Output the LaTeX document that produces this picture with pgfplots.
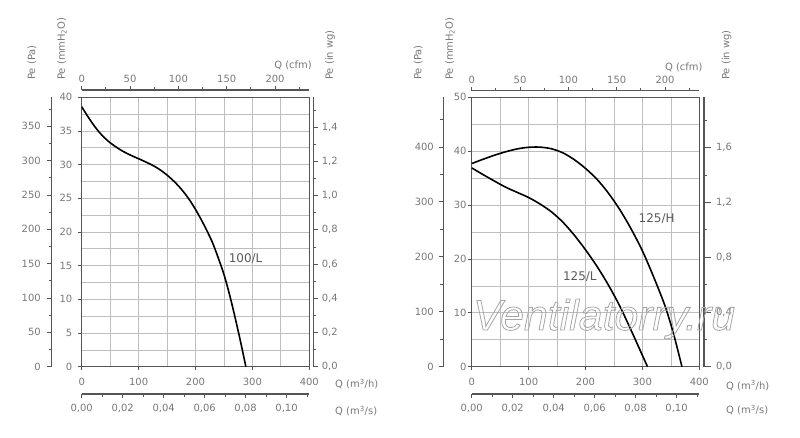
\documentclass[border=0pt]{standalone}
\usepackage{fontspec}
\setmainfont{DejaVu Sans}
\newfontfamily\wmfont{Liberation Sans}
\usepackage{pgfplots}
\pgfplotsset{compat=1.18}
\definecolor{txtgray}{RGB}{120,120,120}
\definecolor{lblgray}{RGB}{90,90,90}
\definecolor{axgray}{RGB}{85,85,85}
\definecolor{gridgray}{RGB}{190,190,190}
\definecolor{wmgray}{RGB}{165,165,165}
\pgfplotsset{
  base/.style={
    scale only axis, anchor=south west,
    /pgf/number format/assume math mode=true,
    scaled ticks=false,
    tick label style={font=\fontsize{10}{12}\selectfont, text=txtgray},
    axis line style={axgray, line width=1.2bp},
    tick style={axgray, line width=0.8bp},
    tick align=outside,
  },
  auxy/.style={base, width=10bp, height=269.4bp, xmin=0, xmax=1, axis x line=none,
    major tick length=5bp, minor tick length=3bp},
  auxx/.style={base, height=10bp, width=227.6bp, ymin=0, ymax=1, axis y line=none, xmin=0,
    major tick length=4bp, minor tick length=3bp},
  mainax/.style={base, width=227.6bp, height=269.4bp, xmin=0, xmax=400, ymin=0,
    xtick={0,100,...,400}, minor xtick={50,150,250,350},
    grid=both, grid style={gridgray, line width=0.7bp},
    xtick pos=bottom, ytick pos=left,
    major tick length=3.5bp, minor tick length=0pt,
    axis line style={axgray, line width=1.5bp},
  },
  curve/.style={black, line width=1.6bp, smooth, tension=0.5},
}
\newcommand{\lf}{\fontsize{10}{12}\selectfont}
\begin{document}
\begin{tikzpicture}
\useasboundingbox (0,0) rectangle (800bp,438bp);
% ================= LEFT CHART =================
\begin{axis}[mainax, at={(81.7bp,71.3bp)}, ymax=40, ytick={0,5,...,40}, minor ytick={2.5,7.5,...,37.5},
  xticklabel style={yshift=-4bp}, yticklabel style={xshift=-2.5bp}]
\addplot[curve] coordinates {(0,38.6) (10,37.25) (20,36.0) (30,34.9) (40,34.0) (50,33.25) (60,32.65) (70,32.1) (80,31.65) (90,31.25) (100,30.88) (110,30.5) (120,30.1) (130,29.65) (140,29.1) (150,28.45) (160,27.7) (170,26.85) (180,25.85) (190,24.7) (200,23.35) (210,21.85) (220,20.2) (230,18.4) (240,16.15) (250,13.7) (260,10.65) (270,7.15) (280,3.4) (288.5,0)};
\node[font=\fontsize{12}{14}\selectfont, text=lblgray] at (axis cs:288,16.1) {100/L};
\end{axis}
% Pa axis
\begin{axis}[auxy, at={(51.7bp,71.3bp)}, axis y line*=left, ymin=0, ymax=392.27,
  ytick={0,50,...,350}, minor ytick={25,75,...,375}, yticklabel style={xshift=-2.5bp}]
\end{axis}
% in wg axis
\begin{axis}[auxy, at={(303.3bp,71.3bp)}, axis y line*=right, ymin=0, ymax=1.5748,
  ytick={0,0.2,0.4,0.6,0.8,1.0,1.2,1.4}, minor ytick={0.1,0.3,0.5,0.7,0.9,1.1,1.3,1.5},
  yticklabel style={/pgf/number format/.cd, fixed, fixed zerofill, precision=1, use comma}]
\end{axis}
% cfm axis
\begin{axis}[auxx, at={(81.7bp,338bp)}, axis x line*=top, xmax=235.43,
  xtick={0,50,100,150,200}, minor xtick={25,75,125,175,225}]
\end{axis}
% m3/s axis
\begin{axis}[auxx, at={(81.7bp,44bp)}, axis x line*=bottom, xmax=0.11111,
  xtick={0,0.02,0.04,0.06,0.08,0.1}, minor xtick={0.01,0.03,0.05,0.07,0.09,0.11},
  xticklabel style={yshift=-3bp, /pgf/number format/.cd, fixed, fixed zerofill, precision=2, use comma}]
\end{axis}
\begin{scope}[every node/.style={font=\lf, text=txtgray, inner sep=0}]
\node[rotate=90, anchor=west] at (32bp,358bp) {Pe (Pa)};
\node[rotate=90, anchor=west] at (62bp,358bp) {Pe (mmH\textsubscript{2}O)};
\node[rotate=90, anchor=west] at (330bp,358bp) {Pe (in wg)};
\node[anchor=base east] at (312bp,369.3bp) {Q (cfm)};
\node[anchor=base west] at (335bp,50.3bp) {Q (m\textsuperscript{3}/h)};
\node[anchor=base west] at (335bp,23.3bp) {Q (m\textsuperscript{3}/s)};
\end{scope}
% ================= RIGHT CHART =================
\begin{axis}[mainax, at={(471.7bp,71.3bp)}, ymax=50, ytick={0,10,...,50}, minor ytick={5,15,...,45},
  xticklabel style={yshift=-4bp}, yticklabel style={xshift=1.8bp}]
\addplot[curve] coordinates {(0,37.7) (20,38.5) (40,39.25) (60,39.9) (80,40.42) (100,40.72) (120,40.75) (140,40.45) (160,39.7) (180,38.45) (200,36.8) (220,34.8) (240,32.25) (260,29.2) (280,25.6) (300,21.5) (320,16.6) (340,11.2) (355,6.0) (369.5,0)};
\addplot[curve] coordinates {(0,36.9) (20,35.65) (40,34.45) (60,33.3) (80,32.35) (100,31.4) (120,30.2) (140,28.75) (160,26.85) (180,24.45) (200,21.7) (220,18.65) (240,15.2) (260,11.3) (280,6.8) (300,2.1) (309,0)};
\node[font=\fontsize{12}{14}\selectfont, text=lblgray] at (axis cs:325,27.4) {125/H};
\node[font=\fontsize{12}{14}\selectfont, text=lblgray] at (axis cs:190,16.7) {125/L};
\end{axis}
\begin{axis}[auxy, at={(443.3bp,71.3bp)}, axis y line*=left, ymin=0, ymax=490.33,
  ytick={0,100,...,400}, minor ytick={50,150,...,450}, major tick length=4bp, yticklabel style={xshift=-2bp}]
\end{axis}
\begin{axis}[auxy, at={(694bp,71.3bp)}, axis y line*=right, ymin=0, ymax=1.9685, major tick length=7bp,
  ytick={0,0.4,0.8,1.2,1.6}, minor ytick={0.2,0.6,1.0,1.4,1.8},
  yticklabel style={xshift=1.5bp, /pgf/number format/.cd, fixed, fixed zerofill, precision=1, use comma}]
\end{axis}
\begin{axis}[auxx, at={(471.7bp,337.3bp)}, axis x line*=top, xmax=235.43,
  xtick={0,50,100,150,200}, minor xtick={25,75,125,175,225}]
\end{axis}
\begin{axis}[auxx, at={(471.7bp,44bp)}, axis x line*=bottom, xmax=0.11111,
  xtick={0,0.02,0.04,0.06,0.08,0.1}, minor xtick={0.01,0.03,0.05,0.07,0.09,0.11},
  xticklabel style={yshift=-3bp, /pgf/number format/.cd, fixed, fixed zerofill, precision=2, use comma}]
\end{axis}
\begin{scope}[every node/.style={font=\lf, text=txtgray, inner sep=0}]
\node[rotate=90, anchor=west] at (418.3bp,358bp) {Pe (Pa)};
\node[rotate=90, anchor=west] at (450bp,358bp) {Pe (mmH\textsubscript{2}O)};
\node[rotate=90, anchor=west] at (726.7bp,358bp) {Pe (in wg)};
\node[anchor=base east] at (702.7bp,367.7bp) {Q (cfm)};
\node[anchor=base west] at (726bp,48.6bp) {Q (m\textsuperscript{3}/h)};
\node[anchor=base west] at (726bp,24.3bp) {Q (m\textsuperscript{3}/s)};
\end{scope}
% watermark
\node[anchor=base west, inner sep=0, font=\wmfont\itshape\fontsize{43}{43}\selectfont, text=wmgray]
  at (473bp,108bp) {\special{pdf:literal direct 1 Tr 0.8 w}Ventilatorry.ru\special{pdf:literal direct 0 Tr}};
\end{tikzpicture}
\end{document}
